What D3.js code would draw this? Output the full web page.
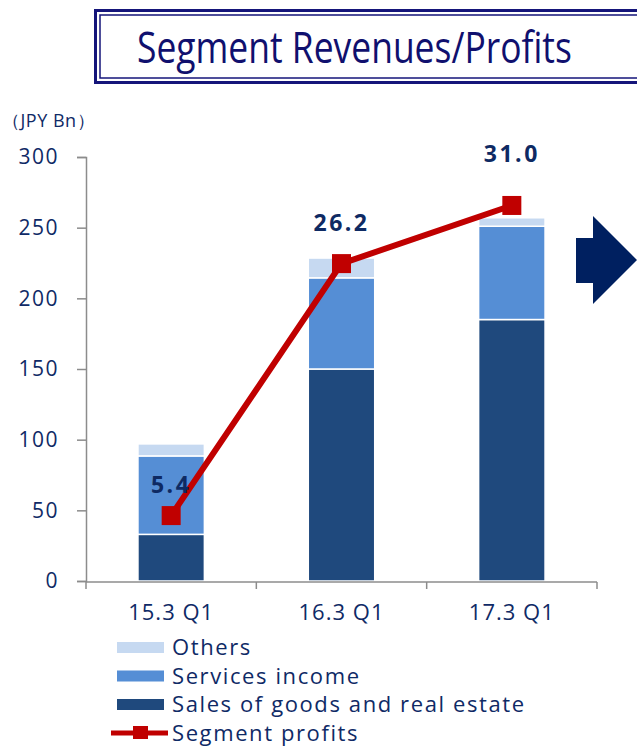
<!DOCTYPE html>
<html>
<head>
<meta charset="utf-8">
<script src="https://cdn.jsdelivr.net/npm/d3@7"></script>
<style>
  body { margin: 0; background: #fff; }
  svg { display: block; font-family: "Open Sans", sans-serif; }
</style>
</head>
<body>
<svg id="chart" width="637" height="746"></svg>
<script>
var categories = ["15.3 Q1", "16.3 Q1", "17.3 Q1"];
var sales = [33, 150, 185];
var services = [55.5, 64.5, 66];
var others = [8.5, 14, 6];
var profits = [5.4, 26.2, 31.0];
var yTicks = [0, 50, 100, 150, 200, 250, 300];

var seriesNames = ["Sales of goods and real estate", "Services income", "Others"];
var colors = ["#1f497d", "#558ed5", "#c6d9f1"];
var navy = "#0f2a66";

var svg = d3.select("#chart");

// title box (runs off the right edge like the original slide)
var title = svg.append("g");
title.append("rect")
    .attr("x", 95.5).attr("y", 10.5).attr("width", 560).attr("height", 72)
    .attr("fill", "none").attr("stroke", "#15157a").attr("stroke-width", 3);
title.append("rect")
    .attr("x", 100).attr("y", 15).attr("width", 560).attr("height", 63)
    .attr("fill", "none").attr("stroke", "#15157a").attr("stroke-width", 1.5);
var titleText = title.append("text")
    .attr("x", 0).attr("y", 0)
    .attr("font-size", 43).attr("fill", "#10106e")
    .text("Segment Revenues/Profits");
// squeeze the title into the box width like the narrow original font
var tw = titleText.node().getComputedTextLength();
titleText.attr("transform", "translate(137,63) scale(" + (435 / tw) + ",1)");

var x = d3.scaleBand().domain(categories).range([86, 597]).paddingInner(0.61).paddingOuter(0.305);
var y = d3.scaleLinear().domain([0, 300]).range([581, 157]);
var y2 = d3.scaleLinear().domain([0, 35]).range([581, 157]);

// y axis
var yAxis = svg.append("g")
    .attr("transform", "translate(86,0)")
    .call(d3.axisLeft(y).tickValues(yTicks).tickSize(9).tickPadding(18));
yAxis.select(".domain").attr("stroke", "#8c8c8c").attr("stroke-width", 1.5);
yAxis.selectAll(".tick line").attr("stroke", "#8c8c8c").attr("stroke-width", 1.5);
yAxis.selectAll("text").attr("font-size", 21).attr("fill", navy)
    .attr("letter-spacing", 1.5).attr("font-family", "Open Sans");

svg.append("text")
    .attr("x", 2).attr("y", 127)
    .attr("font-size", 18).attr("fill", navy)
    .attr("letter-spacing", 0.5)
    .text("（JPY Bn）");

// stacked bars
var rows = categories.map(function(c, i) {
  return { cat: c, "Sales of goods and real estate": sales[i], "Services income": services[i], "Others": others[i] };
});
var stack = d3.stack().keys(seriesNames)(rows);

svg.append("g").selectAll("g")
    .data(stack)
    .enter().append("g")
    .attr("fill", function(d, i) { return colors[i]; })
    .selectAll("rect")
    .data(function(d) { return d; })
    .enter().append("rect")
    .attr("x", function(d) { return x(d.data.cat); })
    .attr("width", x.bandwidth())
    .attr("y", function(d) { return y(d[1]); })
    .attr("height", function(d) { return y(d[0]) - y(d[1]); })
    .attr("stroke", "#fff").attr("stroke-width", 1.5);

// x axis
var xAxis = svg.append("g")
    .attr("transform", "translate(0,582)")
    .call(d3.axisBottom(x).tickSize(0).tickPadding(22));
xAxis.select(".domain").attr("stroke", "#8c8c8c").attr("stroke-width", 1.5)
    .attr("d", "M86,0H597");
xAxis.selectAll("text").attr("font-size", 22).attr("fill", navy)
    .attr("letter-spacing", 1).attr("font-family", "Open Sans");
var step = x.step();
var bounds = [0, 1, 2, 3].map(function(i) { return 86 + i * step; });
xAxis.selectAll(".sep").data(bounds).enter().append("line")
    .attr("x1", function(d) { return d; }).attr("x2", function(d) { return d; })
    .attr("y1", 0).attr("y2", 7)
    .attr("stroke", "#8c8c8c").attr("stroke-width", 1.5);

// profit line
var cx = function(d, i) { return x(categories[i]) + x.bandwidth() / 2; };
var line = d3.line()
    .x(function(d, i) { return cx(d, i); })
    .y(function(d) { return y2(d); });
svg.append("path")
    .datum(profits)
    .attr("d", line)
    .attr("fill", "none").attr("stroke", "#c00000").attr("stroke-width", 6);
svg.append("g").selectAll("rect")
    .data(profits)
    .enter().append("rect")
    .attr("x", function(d, i) { return cx(d, i) - 9.5; })
    .attr("y", function(d) { return y2(d) - 9.5; })
    .attr("width", 19).attr("height", 19)
    .attr("fill", "#c00000");

// value labels
var labelDy = [-23, -33, -43];
svg.append("g").selectAll("text")
    .data(profits)
    .enter().append("text")
    .attr("x", function(d, i) { return cx(d, i); })
    .attr("y", function(d, i) { return y2(d) + labelDy[i]; })
    .attr("text-anchor", "middle")
    .attr("font-size", 23).attr("font-weight", "bold").attr("letter-spacing", 2.5)
    .attr("fill", "#0e2a63")
    .text(function(d) { return d.toFixed(1); });

// arrow
svg.append("path")
    .attr("d", "M576,238H593V216L637,260L593,304V283H576Z")
    .attr("fill", "#002060");

// legend
var legendItems = [
  { name: "Others", color: colors[2] },
  { name: "Services income", color: colors[1] },
  { name: "Sales of goods and real estate", color: colors[0] }
];
var legend = svg.append("g");
legend.selectAll("rect.sw").data(legendItems).enter().append("rect")
    .attr("x", 117).attr("y", function(d, i) { return 642 + i * 28.5; })
    .attr("width", 47).attr("height", 11)
    .attr("fill", function(d) { return d.color; });
legend.selectAll("text").data(legendItems.map(function(d) { return d.name; }).concat(["Segment profits"]))
    .enter().append("text")
    .attr("x", 172).attr("y", function(d, i) { return 655 + i * 28.7; })
    .attr("font-size", 22).attr("letter-spacing", 1.6).attr("fill", navy)
    .text(function(d) { return d; });
legend.append("line")
    .attr("x1", 111).attr("x2", 168).attr("y1", 733).attr("y2", 733)
    .attr("stroke", "#c00000").attr("stroke-width", 5);
legend.append("rect")
    .attr("x", 133).attr("y", 726).attr("width", 15).attr("height", 13)
    .attr("fill", "#c00000");
</script>
</body>
</html>
